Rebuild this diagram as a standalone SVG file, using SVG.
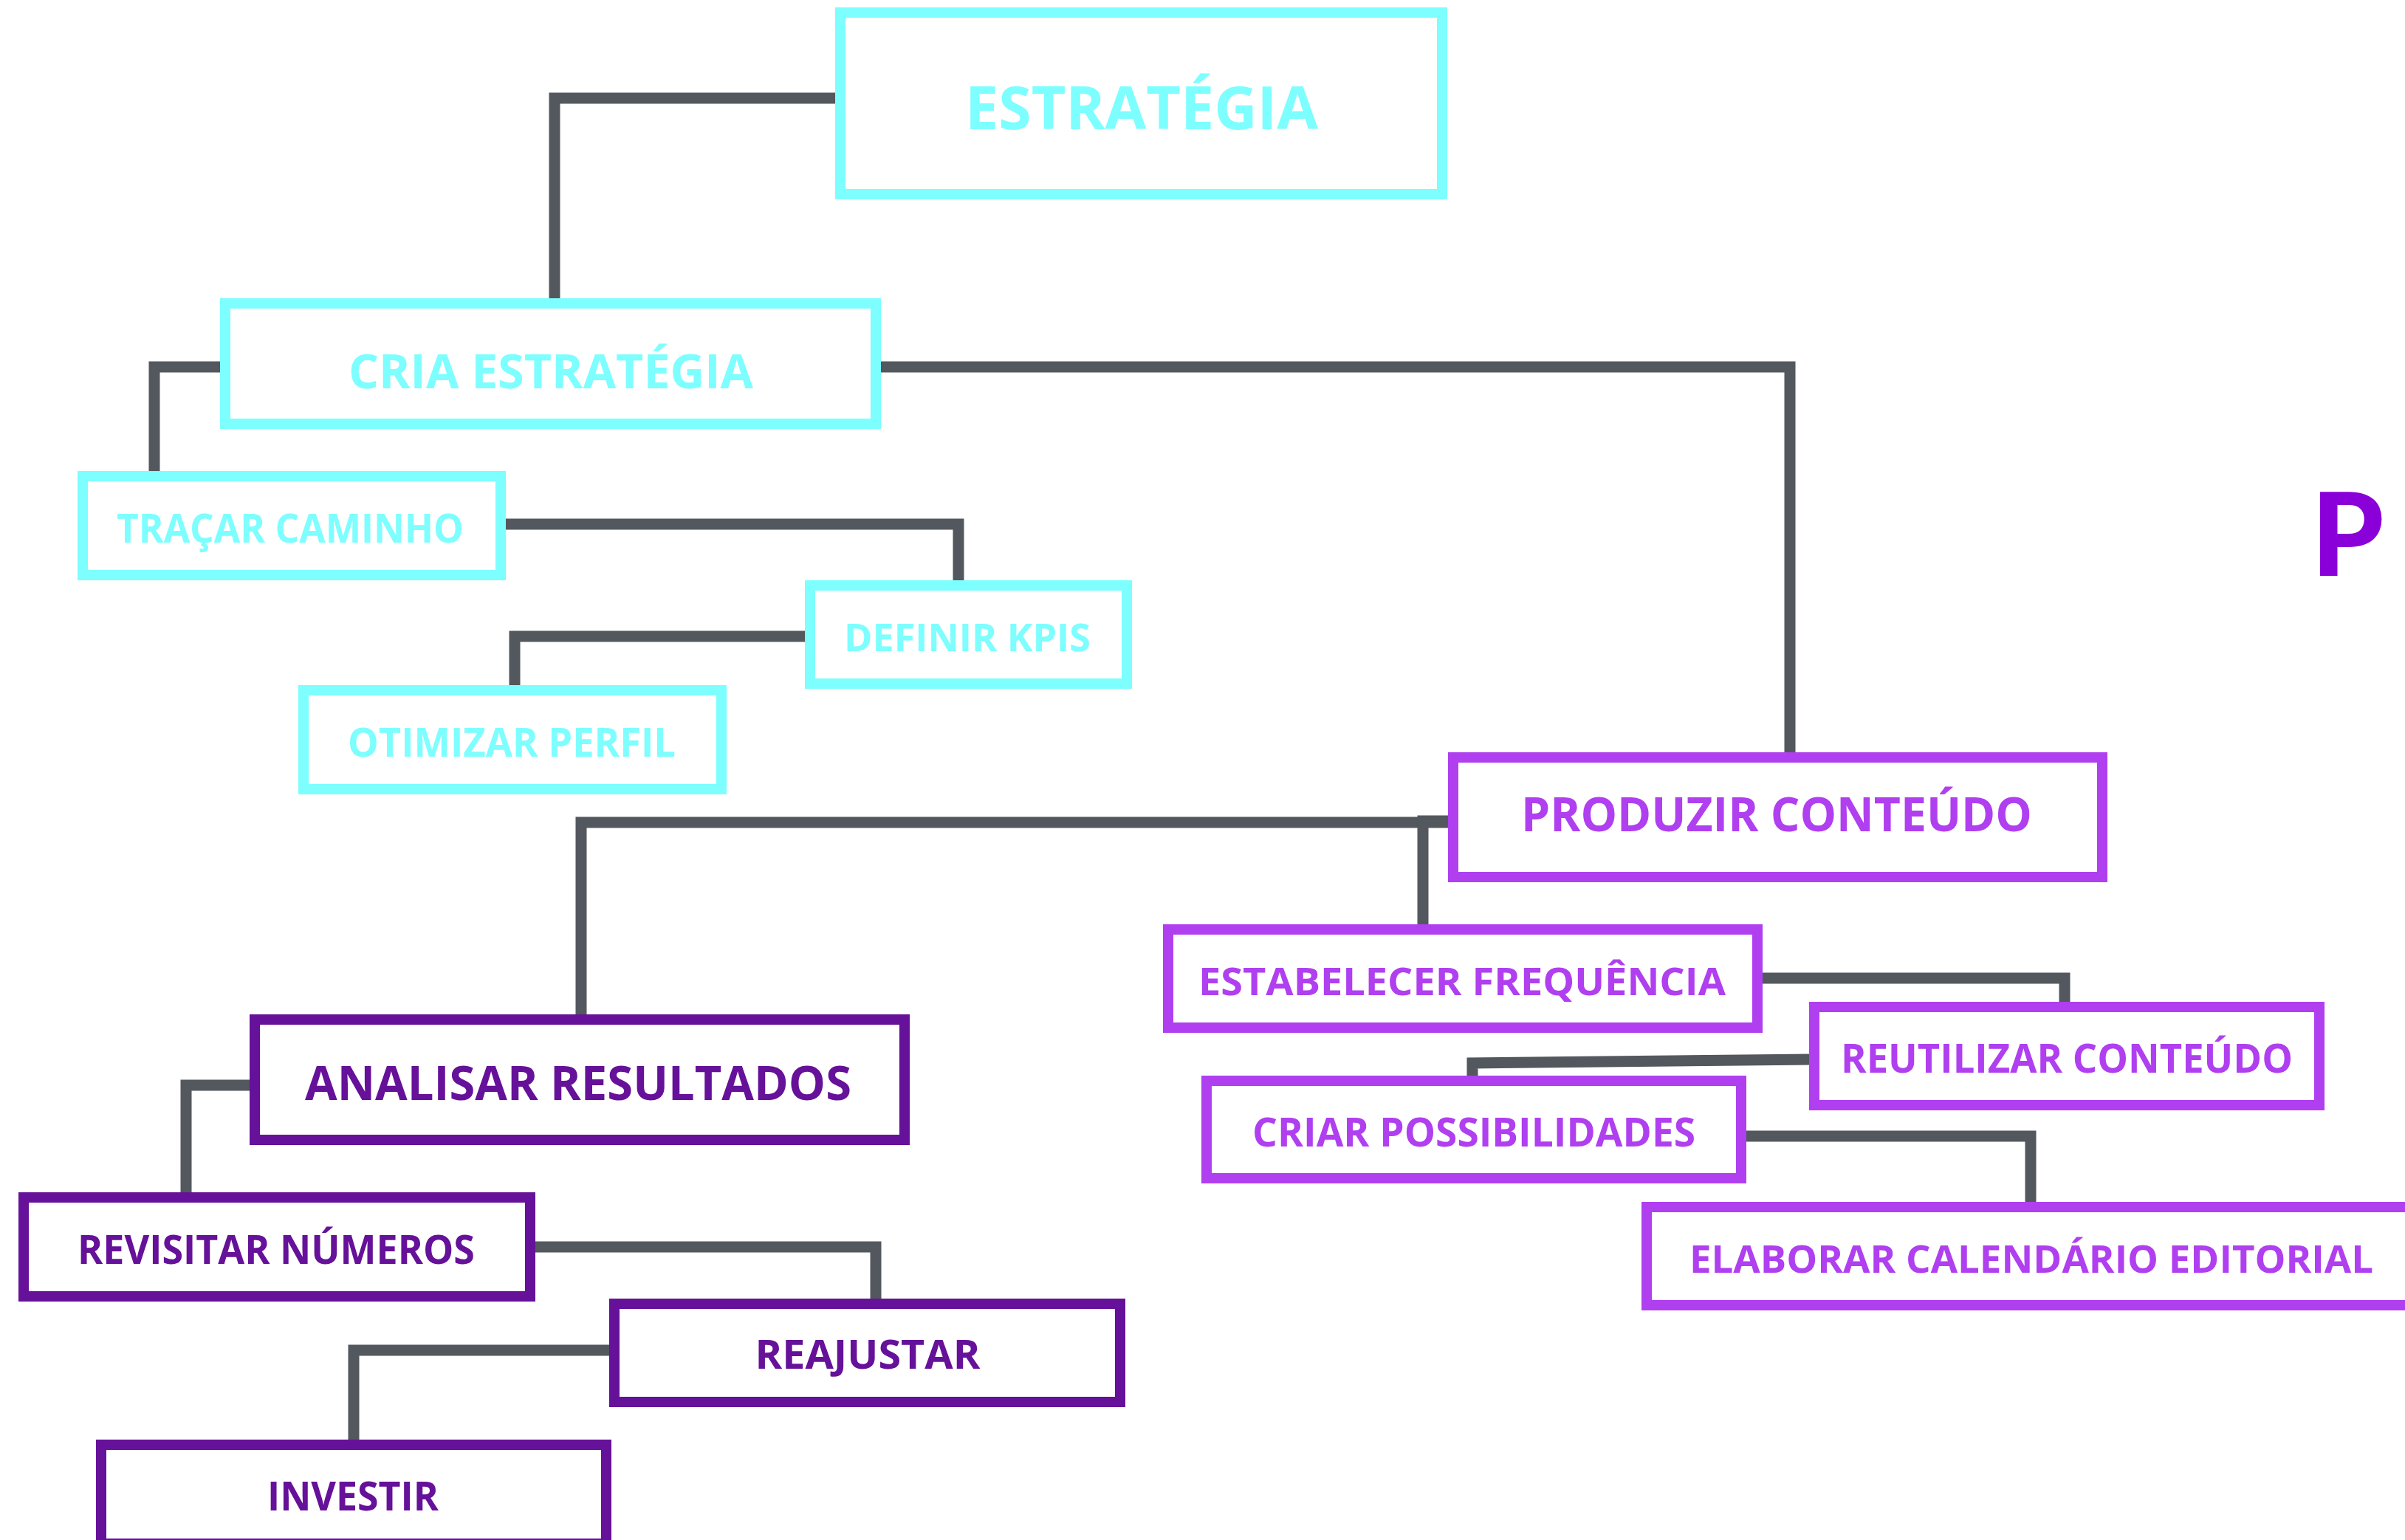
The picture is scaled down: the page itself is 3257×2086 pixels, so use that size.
<svg xmlns="http://www.w3.org/2000/svg" width="3257" height="2086" viewBox="0 0 3257 2086">
<style>
.bg{fill:#ffffff}
.c path{fill:none;stroke:#53575e;stroke-width:15;stroke-linejoin:miter;stroke-linecap:butt}
.box{fill:#ffffff;stroke-width:14}
.cy .box{stroke:#7dfeff}
.lp .box{stroke:#b03ff0}
.dp .box{stroke:#661199}
text{font-family:"Open Sans","Noto Sans","Liberation Sans",sans-serif;font-weight:700;text-anchor:middle}
.cy text{fill:#7dfeff}
.lp text{fill:#b03ff0}
.dp text{fill:#661199}
.title{font-family:Lato,"Open Sans","Liberation Sans",sans-serif;font-weight:900;fill:#8a00d9;text-anchor:start}
</style>
<rect class="bg" x="0" y="0" width="3257" height="2086"/>
<g id="connectors" class="c">
<path d="M1135 133 H751 V408"/>
<path d="M1189 497 H2424 V1023"/>
<path d="M302 497 H209 V642"/>
<path d="M681 710 H1298 V790"/>
<path d="M1094 862 H697 V932"/>
<path d="M1965 1114 H787 V1378"/>
<path d="M1965 1112 H1927 V1256"/>
<path d="M2383 1325 H2796 V1361"/>
<path d="M2454 1435 L1994 1440 V1461"/>
<path d="M2361 1539 H2750 V1632"/>
<path d="M342 1470 H252 V1619"/>
<path d="M721 1689 H1186 V1763"/>
<path d="M829 1829 H479 V1954"/>
</g>
<g id="n-estrategia" class="cy">
<rect class="box" x="1138" y="17" width="815" height="246"/>
<text x="1546" y="175" font-size="80" textLength="478" lengthAdjust="spacingAndGlyphs">ESTRATÉGIA</text>
</g>
<g id="n-cria" class="cy">
<rect class="box" x="305" y="411" width="881" height="163"/>
<text x="746" y="526" font-size="64" textLength="548" lengthAdjust="spacingAndGlyphs">CRIA ESTRATÉGIA</text>
</g>
<g id="n-tracar" class="cy">
<rect class="box" x="112" y="645" width="566" height="134"/>
<text x="393" y="735" font-size="53" textLength="470" lengthAdjust="spacingAndGlyphs">TRAÇAR CAMINHO</text>
</g>
<g id="n-definir" class="cy">
<rect class="box" x="1097" y="793" width="429" height="133"/>
<text x="1310" y="882" font-size="52" textLength="334" lengthAdjust="spacingAndGlyphs">DEFINIR KPIS</text>
</g>
<g id="n-otimizar" class="cy">
<rect class="box" x="411" y="935" width="566" height="134"/>
<text x="693" y="1025" font-size="53" textLength="444" lengthAdjust="spacingAndGlyphs">OTIMIZAR PERFIL</text>
</g>
<g id="n-produzir" class="lp">
<rect class="box" x="1968" y="1026" width="879" height="162"/>
<text x="2406" y="1126" font-size="64" textLength="692" lengthAdjust="spacingAndGlyphs">PRODUZIR CONTEÚDO</text>
</g>
<g id="n-estabelecer" class="lp">
<rect class="box" x="1582" y="1259" width="798" height="133"/>
<text x="1980" y="1348" font-size="52" textLength="714" lengthAdjust="spacingAndGlyphs">ESTABELECER FREQUÊNCIA</text>
</g>
<g id="n-reutilizar" class="lp">
<rect class="box" x="2457" y="1364" width="684" height="133"/>
<text x="2799" y="1453" font-size="53" textLength="612" lengthAdjust="spacingAndGlyphs">REUTILIZAR CONTEÚDO</text>
</g>
<g id="n-criar" class="lp">
<rect class="box" x="1634" y="1464" width="724" height="132"/>
<text x="1996" y="1553" font-size="53" textLength="600" lengthAdjust="spacingAndGlyphs">CRIAR POSSIBILIDADES</text>
</g>
<g id="n-elaborar" class="lp">
<rect class="box" x="2230" y="1635" width="1043" height="133"/>
<text x="2751" y="1724" font-size="52" textLength="926" lengthAdjust="spacingAndGlyphs">ELABORAR CALENDÁRIO EDITORIAL</text>
</g>
<g id="n-analisar" class="dp">
<rect class="box" x="345" y="1381" width="880" height="163"/>
<text x="783" y="1490" font-size="64" textLength="740" lengthAdjust="spacingAndGlyphs">ANALISAR RESULTADOS</text>
</g>
<g id="n-revisitar" class="dp">
<rect class="box" x="32" y="1622" width="686" height="134"/>
<text x="374" y="1712" font-size="53" textLength="538" lengthAdjust="spacingAndGlyphs">REVISITAR NÚMEROS</text>
</g>
<g id="n-reajustar" class="dp">
<rect class="box" x="832" y="1766" width="685" height="133"/>
<text x="1175" y="1854" font-size="53" textLength="305" lengthAdjust="spacingAndGlyphs">REAJUSTAR</text>
</g>
<g id="n-investir" class="dp">
<rect class="box" x="137" y="1957" width="684" height="134"/>
<text x="478" y="2046" font-size="53" textLength="232" lengthAdjust="spacingAndGlyphs">INVESTIR</text>
</g>
<g id="title">
<text class="title" x="3130" y="780" font-size="157">P</text>
</g>
</svg>
